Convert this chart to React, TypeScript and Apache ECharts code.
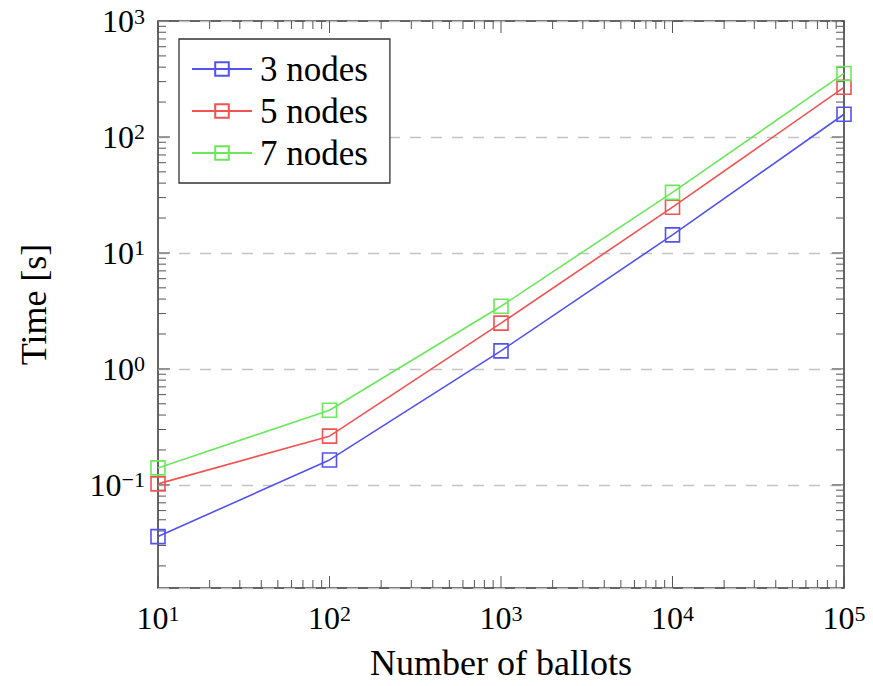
import React, { useEffect, useRef } from 'react';
import * as echarts from 'echarts';

// ---- data ----
const ballots = [10, 100, 1000, 10000, 100000];
const nodes3 = [0.0358, 0.164, 1.43, 14.3, 157];
const nodes5 = [0.102, 0.263, 2.48, 24.8, 268];
const nodes7 = [0.14, 0.44, 3.47, 33.3, 353];
const seriesNames = ['3 nodes', '5 nodes', '7 nodes'];
const seriesValues = [nodes3, nodes5, nodes7];
const seriesColors = ['#5252f2', '#f25252', '#6ae85a'];
const xRange = [10, 100000];
const yRange = [0.0129, 1000];
const xTitle = 'Number of ballots';
const yTitle = 'Time [s]';

const TEXT_FONT = 'Liberation Serif';

function logTicks(min: number, max: number): number[][] {
  const out: number[][] = [];
  for (let e = Math.floor(Math.log10(min)); e <= Math.ceil(Math.log10(max)); e++) {
    for (let m = 1; m <= 9; m++) {
      const v = m * Math.pow(10, e);
      if (v >= min * 0.999 && v <= max * 1.001) out.push([v, m === 1 ? 1 : 0]);
    }
  }
  return out;
}

function powLabel(v: number): string {
  const l = Math.log10(v);
  const e = Math.round(l);
  if (Math.abs(l - e) > 1e-6) return '';
  const sup = e < 0 ? '\u2212' + -e : String(e);
  return `{b|10}{s|${sup}}`;
}

const labelRich = {
  b: { fontFamily: TEXT_FONT, fontSize: 32, lineHeight: 32, color: '#000', verticalAlign: 'bottom' },
  s: { fontFamily: TEXT_FONT, fontSize: 22, lineHeight: 22, color: '#000', verticalAlign: 'top' },
};

export default function App() {
  const ref = useRef<HTMLDivElement>(null);

  useEffect(() => {
    if (!ref.current) return;
    const chart = echarts.init(ref.current, undefined, { renderer: 'svg' });

    const xTicks = logTicks(xRange[0], xRange[1]);
    const yTicks = logTicks(yRange[0], yRange[1]);
    const tickData = [
      ...xTicks.map(([v, m]) => [v, 1, m, 0]),
      ...yTicks.map(([v, m]) => [10, v, m, 1]),
    ];

    const lineSeries = seriesNames.map((name, i) => ({
      name,
      type: 'line',
      data: ballots.map((x, j) => [x, seriesValues[i][j]]),
      symbol: 'rect',
      symbolSize: 14,
      lineStyle: { color: seriesColors[i], width: 1.6 },
      itemStyle: { color: 'rgba(255,255,255,0)', borderColor: seriesColors[i], borderWidth: 1.6 },
      z: 4,
    }));

    const option: any = {
      animation: false,
      grid: {
        left: 158,
        top: 21,
        right: 29,
        bottom: 95,
        show: true,
        borderColor: '#333',
        borderWidth: 1.5,
        backgroundColor: 'transparent',
      },
      legend: {
        data: seriesNames,
        orient: 'vertical',
        left: 179,
        top: 39,
        padding: [12, 22, 12, 12],
        itemGap: 6,
        itemWidth: 60,
        itemHeight: 17,
        backgroundColor: '#fff',
        borderColor: '#333',
        borderWidth: 1.3,
        borderRadius: 0,
        textStyle: {
          fontFamily: TEXT_FONT,
          fontSize: 35,
          lineHeight: 36,
          color: '#000',
          padding: [0, 0, 0, 3],
        },
      },
      xAxis: {
        type: 'log',
        logBase: 10,
        min: xRange[0],
        max: xRange[1],
        name: xTitle,
        nameLocation: 'middle',
        nameGap: 57,
        nameTextStyle: { fontFamily: TEXT_FONT, fontSize: 36, color: '#000' },
        axisLine: { show: false },
        axisTick: { show: false },
        splitLine: { show: false },
        axisLabel: { formatter: powLabel, rich: labelRich, margin: 14 },
      },
      yAxis: {
        type: 'log',
        logBase: 10,
        min: yRange[0],
        max: yRange[1],
        name: yTitle,
        nameLocation: 'middle',
        nameGap: 106,
        nameRotate: 90,
        nameTextStyle: { fontFamily: TEXT_FONT, fontSize: 36, color: '#000' },
        axisLine: { show: false },
        axisTick: { show: false },
        splitLine: {
          show: true,
          lineStyle: { type: [11, 10], color: '#c4c4c4', width: 1.3 },
        },
        axisLabel: { formatter: powLabel, rich: labelRich, margin: 13 },
      },
      series: [
        {
          type: 'custom',
          name: 'ticks',
          silent: true,
          clip: false,
          z: 3,
          data: tickData,
          renderItem: (params: any, api: any) => {
            const cs = params.coordSys;
            const major = api.value(2) === 1;
            const len = major ? 12 : 8;
            const style = { stroke: '#555', lineWidth: 1 };
            if (api.value(3) === 0) {
              const x = api.coord([api.value(0), 1])[0];
              return {
                type: 'group',
                children: [
                  { type: 'line', shape: { x1: x, y1: cs.y + cs.height, x2: x, y2: cs.y + cs.height - len }, style },
                  { type: 'line', shape: { x1: x, y1: cs.y, x2: x, y2: cs.y + len }, style },
                ],
              };
            }
            const y = api.coord([10, api.value(1)])[1];
            return {
              type: 'group',
              children: [
                { type: 'line', shape: { x1: cs.x, y1: y, x2: cs.x + len, y2: y }, style },
                { type: 'line', shape: { x1: cs.x + cs.width, y1: y, x2: cs.x + cs.width - len, y2: y }, style },
              ],
            };
          },
        },
        ...lineSeries,
      ],
    };

    chart.setOption(option);
    return () => chart.dispose();
  }, []);

  return (
    <div
      ref={ref}
      style={{ position: 'absolute', left: 0, top: 0, width: 873, height: 686, background: '#fff' }}
    />
  );
}
